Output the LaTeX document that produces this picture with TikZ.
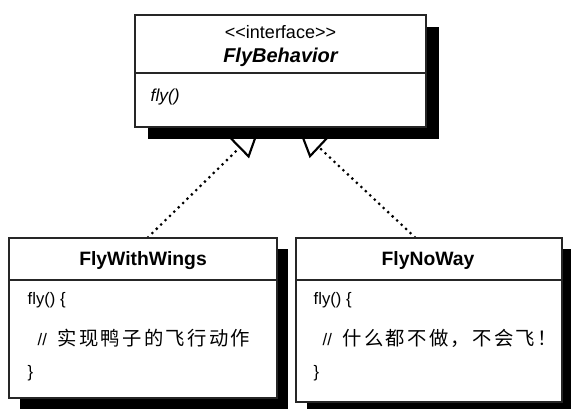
\documentclass[tikz,border=0pt]{standalone}
\usepackage{fontspec}
\setmainfont{Liberation Sans}
\newfontfamily\cjk[LetterSpace=12]{Noto Sans CJK SC}
\usetikzlibrary{arrows.meta,shadows}
\pgfdeclarelayer{behind}
\pgfsetlayers{behind,main}
\tikzset{
  classbox/.style={draw=black!85, line width=1pt, fill=white, inner sep=0pt},
  realize/.style={line width=2.3pt, dash pattern=on 0pt off 4.6pt, line cap=round,
    -{Triangle[open, fill=white, length=22pt, width=21pt, line width=1.6pt]}},
}
\begin{document}
\begin{tikzpicture}[x=0.75pt, y=-0.75pt]
  \useasboundingbox (0,0) rectangle (571,409);

  % Interface
  \node[classbox, minimum width=218.25pt, minimum height=84pt,
    drop shadow={shadow xshift=10pt, shadow yshift=-9pt, fill=black, opacity=1}]
    (flybehavior) at (280.5,71) {};
  \draw[line width=1pt, black!85] (flybehavior.west |- 0,73) -- (flybehavior.east |- 0,73);
  \node[font=\fontsize{13.5}{16}\selectfont] (stereotype) at (280.5,32) {{<}{<}interface{>}{>}};
  \node[font=\bfseries\itshape\fontsize{15}{18}\selectfont] (ifname) at (280.5,57) {FlyBehavior};
  \node[anchor=west, font=\itshape\fontsize{13}{16}\selectfont] (ifop) at (146,97) {fly()};

  % FlyWithWings
  \node[classbox, minimum width=201pt, minimum height=120pt,
    drop shadow={shadow xshift=8pt, shadow yshift=-8pt, fill=black, opacity=1}]
    (flywithwings) at (143,318) {};
  \draw[line width=1pt, black!85] (flywithwings.west |- 0,280) -- (flywithwings.east |- 0,280);
  \node[font=\bfseries\fontsize{14.5}{17}\selectfont] (wingsname) at (143,261) {FlyWithWings};
  \node[anchor=west, font=\fontsize{12.5}{14}\selectfont] (wingsop) at (23,300) {fly() \{};
  \node[anchor=west, font=\fontsize{12.5}{14}\selectfont] (wingsbody) at (33,338)
    {//\hspace{8pt}{\cjk\fontsize{14.5}{17}\selectfont 实现鸭子的飞行动作}};
  \node[anchor=west, font=\fontsize{12.5}{14}\selectfont] (wingsend) at (23,373) {\}};

  % FlyNoWay
  \node[classbox, minimum width=199.5pt, minimum height=123pt,
    drop shadow={shadow xshift=8pt, shadow yshift=-8pt, fill=black, opacity=1}]
    (flynoway) at (429,320) {};
  \draw[line width=1pt, black!85] (flynoway.west |- 0,280) -- (flynoway.east |- 0,280);
  \node[font=\bfseries\fontsize{14.5}{17}\selectfont] (nowayname) at (428,261) {FlyNoWay};
  \node[anchor=west, font=\fontsize{12.5}{14}\selectfont] (nowayop) at (309,300) {fly() \{};
  \node[anchor=west, font=\fontsize{12.5}{14}\selectfont] (nowaybody) at (318,338)
    {//\hspace{8pt}{\cjk\fontsize{14.5}{17}\selectfont 什么都不做，不会飞！}};
  \node[anchor=west, font=\fontsize{12.5}{14}\selectfont] (nowayend) at (309,373) {\}};

  % Realisierung
  \begin{pgfonlayer}{behind}
    \draw[realize] (flywithwings.north -| 148,0) -- (flybehavior.south -| 260,0);
    \draw[realize] (flynoway.north -| 415,0) -- (flybehavior.south -| 298,0);
  \end{pgfonlayer}
\end{tikzpicture}
\end{document}
